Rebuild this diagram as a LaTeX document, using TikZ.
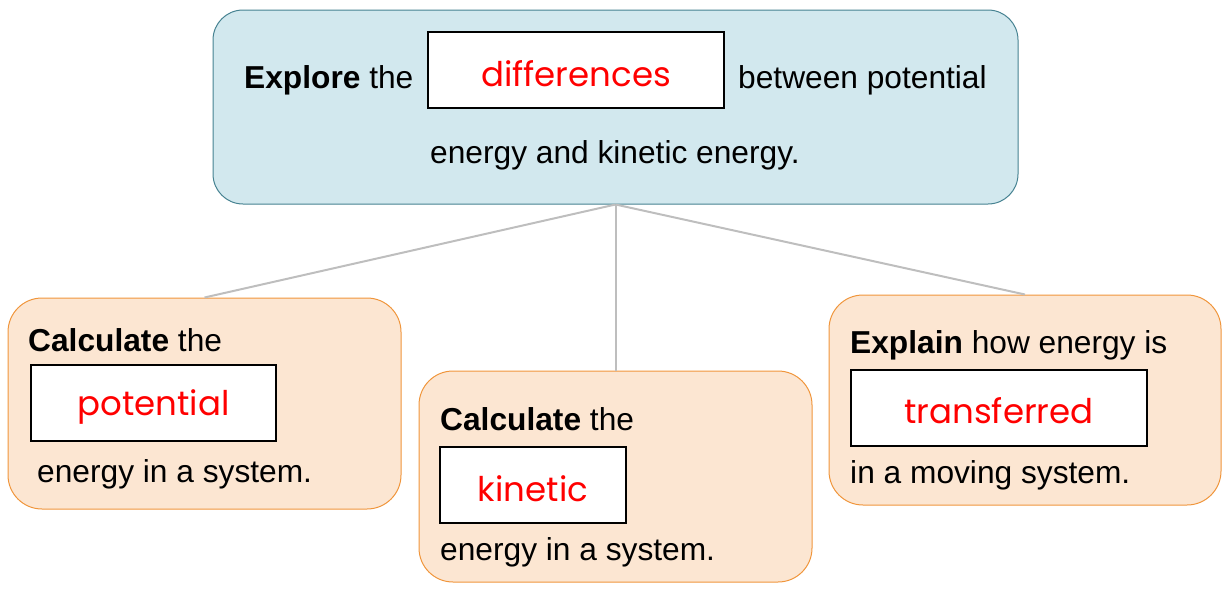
\documentclass[tikz,border=0pt]{standalone}
\usepackage{fontspec}
\setmainfont{Liberation Sans}
\newfontfamily\handfont{Poppins}
\definecolor{topfill}{RGB}{210,232,238}
\definecolor{topdraw}{RGB}{70,130,145}
\definecolor{orfill}{RGB}{252,230,210}
\definecolor{ordraw}{RGB}{240,150,60}
\definecolor{linkgray}{RGB}{190,190,190}
\definecolor{hred}{RGB}{255,0,0}
\tikzset{
  topbox/.style={draw=topdraw, fill=topfill, line width=1pt, rounded corners=30pt, inner sep=0pt, minimum width=805pt, minimum height=194pt},
  subbox/.style={draw=ordraw, fill=orfill, line width=1pt, rounded corners=34pt, inner sep=0pt, minimum width=393pt, minimum height=211pt},
  blank/.style={draw=black, fill=white, line width=2pt, inner sep=0pt, minimum height=76pt},
  fillword/.style={text=hred, font=\handfont\fontsize{34}{40}\selectfont, inner sep=0pt},
  txt/.style={anchor=base west, inner sep=0pt, font=\fontsize{31.7}{38}\selectfont},
  link/.style={draw=linkgray, line width=2pt}
}
\begin{document}
\begin{tikzpicture}[x=1pt,y=-1pt]
\useasboundingbox (0,0) rectangle (1225,592);
% boxes
\node[topbox] (top) at (615.5,107) {};
\node[subbox] (left) at (204.5,403.5) {};
\node[subbox] (mid) at (615.5,476.5) {};
\node[subbox, minimum width=392pt, minimum height=210pt] (right) at (1025,400) {};
% connectors
\draw[link] (top.south) -- (left.north);
\draw[link] (top.south) -- (mid.north);
\draw[link] (top.south) -- (right.north);
% top box text
\node[txt] (t1) at (244,88) {\textbf{Explore} the};
\node[blank, minimum width=296pt] (b1) at (576,70) {};
\node[fillword] (w1) at (576,74) {differences};
\node[txt] (t2) at (738,88) {between potential};
\node[txt] (t3) at (430,163) {energy and kinetic energy.};
% left box text
\node[txt] (l1) at (28,351) {\textbf{Calculate} the};
\node[blank, minimum width=245pt] (b2) at (153.5,403) {};
\node[fillword] (w2) at (153.5,407) {potential};
\node[txt] (l2) at (37,482) {energy in a system.};
% middle box text
\node[txt] (m1) at (440,430) {\textbf{Calculate} the};
\node[blank, minimum width=186pt] (b3) at (533,485) {};
\node[fillword] (w3) at (533,489) {kinetic};
\node[txt] (m2) at (440,560) {energy in a system.};
% right box text
\node[txt] (r1) at (850,353) {\textbf{Explain} how energy is};
\node[blank, minimum width=296pt] (b4) at (999,407.5) {};
\node[fillword] (w4) at (999,411) {transferred};
\node[txt] (r2) at (850,483) {in a moving system.};
\end{tikzpicture}
\end{document}
